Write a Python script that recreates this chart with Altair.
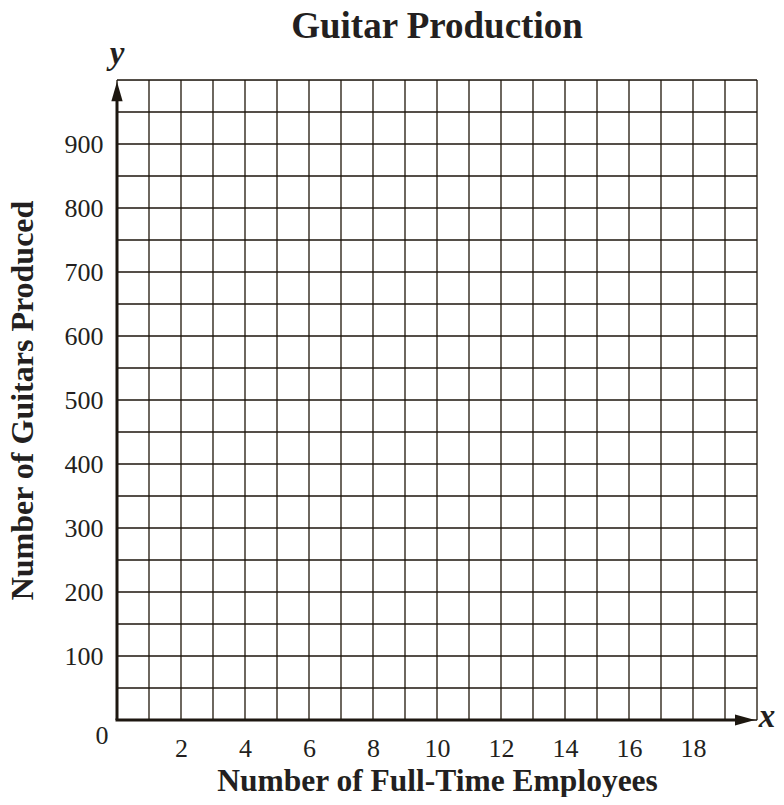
import altair as alt
import pandas as pd

# ---- values ----
title_text = "Guitar Production"
x_title = "Number of Full-Time Employees"
y_title = "Number of Guitars Produced"
x_domain = [0, 20]
y_domain = [0, 1000]
x_grid_values = list(range(0, 21, 1))
y_grid_values = list(range(0, 1001, 50))
x_label_values = [2, 4, 6, 8, 10, 12, 14, 16, 18]
y_label_values = [100, 200, 300, 400, 500, 600, 700, 800, 900]
origin_label = "0"
x_axis_letter = "x"
y_axis_letter = "y"

INK = "#1d1710"
TXT = "#231f20"
SERIF = "Liberation Serif"

xs = alt.Scale(domain=x_domain, nice=False, zero=False)
ys = alt.Scale(domain=y_domain, nice=False, zero=False)

x_axis = alt.Axis(values=x_label_values, grid=False, domain=False, ticks=False, labelPadding=15,
                  labelFont=SERIF, labelFontSize=26, labelColor=TXT, labelAngle=0,
                  title=x_title, titleFont=SERIF, titleFontSize=31.5, titleFontWeight="bold",
                  titleColor=TXT, titleBaseline="alphabetic", titleY=70, titleX=320)
y_axis = alt.Axis(values=y_label_values, grid=False, domain=False, ticks=False, labelPadding=14,
                  labelFont=SERIF, labelFontSize=26, labelColor=TXT,
                  title=y_title, titleFont=SERIF, titleFontSize=32, titleFontWeight="bold",
                  titleColor=TXT, titleBaseline="alphabetic", titleX=-85, titleY=320,
                  titleAngle=270)

vgrid_df = pd.DataFrame({"x": x_grid_values})
vgrid_df["y"] = y_domain[0]
vgrid_df["y2"] = y_domain[1]
hgrid_df = pd.DataFrame({"y": y_grid_values})
hgrid_df["x"] = x_domain[0]
hgrid_df["x2"] = x_domain[1]

origin_df = pd.DataFrame({"x": [x_domain[0]], "y": [y_domain[0]],
                          "xmax": [x_domain[1]], "ymax": [y_domain[1]],
                          "xmid": [(x_domain[0] + x_domain[1]) / 2]})

vgrid = alt.Chart(vgrid_df).mark_rule(color="#5e574e", strokeWidth=1.8).encode(
    x=alt.X("x:Q", scale=xs, axis=x_axis),
    y=alt.Y("y:Q", scale=ys, axis=y_axis),
    y2="y2:Q",
)
hgrid = alt.Chart(hgrid_df).mark_rule(color="#1d150c", strokeWidth=1.4).encode(
    x=alt.X("x:Q", scale=xs),
    x2="x2:Q",
    y=alt.Y("y:Q", scale=ys),
)

y_axis_line = alt.Chart(origin_df).mark_rule(color=INK, strokeWidth=3, y2Offset=14).encode(
    x=alt.X("x:Q", scale=xs),
    y=alt.Y("y:Q", scale=ys),
    y2="ymax:Q",
)
x_axis_line = alt.Chart(origin_df).mark_rule(color=INK, strokeWidth=3, x2Offset=-14, xOffset=-1.5).encode(
    x=alt.X("x:Q", scale=xs),
    x2="xmax:Q",
    y=alt.Y("y:Q", scale=ys),
)
up_arrow = alt.Chart(origin_df).mark_point(
    shape="M0,-1L0.58,1L-0.58,1Z", filled=True, size=380, color=INK, opacity=1,
    strokeWidth=0, yOffset=11.5).encode(
    x=alt.X("x:Q", scale=xs), y=alt.Y("ymax:Q", scale=ys))
right_arrow = alt.Chart(origin_df).mark_point(
    shape="M1,0L-1,-0.55L-1,0.55Z", filled=True, size=400, color=INK, opacity=1,
    strokeWidth=0, xOffset=-12).encode(
    x=alt.X("xmax:Q", scale=xs), y=alt.Y("y:Q", scale=ys))

origin_text = alt.Chart(origin_df).mark_text(
    text=origin_label, font=SERIF, fontSize=26, color=TXT, dx=-15, dy=16,
    baseline="middle", align="center").encode(
    x=alt.X("x:Q", scale=xs), y=alt.Y("y:Q", scale=ys))
x_letter = alt.Chart(origin_df).mark_text(
    text=x_axis_letter, font=SERIF, fontSize=33, fontStyle="italic", fontWeight="bold",
    color=TXT, dx=10, dy=-3, baseline="middle", align="center").encode(
    x=alt.X("xmax:Q", scale=xs), y=alt.Y("y:Q", scale=ys))
y_letter = alt.Chart(origin_df).mark_text(
    text=y_axis_letter, font=SERIF, fontSize=33, fontStyle="italic", fontWeight="bold",
    color=TXT, dy=-16, baseline="alphabetic", align="center").encode(
    x=alt.X("x:Q", scale=xs), y=alt.Y("ymax:Q", scale=ys))
title_mark = alt.Chart(origin_df).mark_text(
    text=title_text, font=SERIF, fontSize=37, fontWeight="bold",
    color=TXT, dy=-42, baseline="alphabetic", align="center").encode(
    x=alt.X("xmid:Q", scale=xs), y=alt.Y("ymax:Q", scale=ys))

chart = alt.layer(
    vgrid, hgrid, y_axis_line, x_axis_line, up_arrow, right_arrow,
    origin_text, x_letter, y_letter, title_mark
).properties(
    width=640, height=640,
    autosize=alt.AutoSizeParams(type="none"),
    padding={"left": 109, "top": 72, "right": 19, "bottom": 77},
).configure_view(stroke=None).configure(background="white")

chart.save("out.html", embed_options={"renderer": "svg", "actions": False})
